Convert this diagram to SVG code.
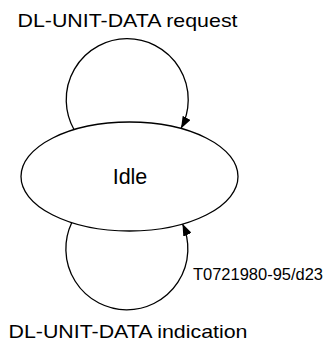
<svg xmlns="http://www.w3.org/2000/svg" width="327" height="342" viewBox="0 0 327 342">
<style>
.line{fill:none;stroke:#000;stroke-width:1.3}
.node{fill:#fff;stroke:#000;stroke-width:1.3}
.t{font-family:"Liberation Sans",Arial,sans-serif;fill:#000}
</style>
<defs>
<marker id="arr" viewBox="0 0 12 9" refX="12" refY="4.5" markerWidth="12" markerHeight="9" markerUnits="userSpaceOnUse" orient="auto">
<path d="M0,0 L12,4.5 L0,9 Z" fill="#000"/>
</marker>
</defs>
<rect width="327" height="342" fill="#fff"/>
<g id="connectors">
<path class="line" d="M 74 129.5 A 61 61 0 1 1 181 128.5" marker-end="url(#arr)"/>
<path class="line" d="M 71.7 222.8 A 61 61 0 1 0 182.5 223.8" marker-end="url(#arr)"/>
</g>
<g id="idle">
<ellipse class="node" cx="129.5" cy="176.5" rx="108.5" ry="54.5"/>
<text class="t" x="130" y="184" font-size="21.5" text-anchor="middle">Idle</text>
</g>
<g id="labels">
<text class="t" x="17.5" y="26.5" font-size="18.5" textLength="220" lengthAdjust="spacingAndGlyphs">DL-UNIT-DATA request</text>
<text class="t" x="8.5" y="338" font-size="18.5" textLength="239" lengthAdjust="spacingAndGlyphs">DL-UNIT-DATA indication</text>
<text class="t" x="193" y="279.5" font-size="16" textLength="130" lengthAdjust="spacingAndGlyphs">T0721980-95/d23</text>
</g>
</svg>
